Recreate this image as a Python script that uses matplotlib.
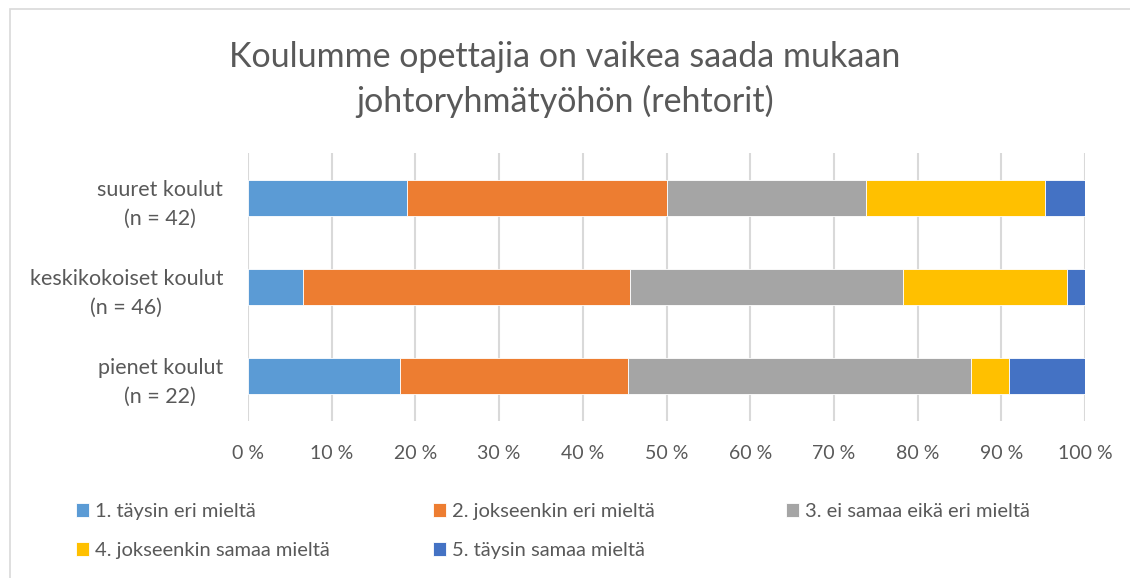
import matplotlib.pyplot as plt
import numpy as np
from matplotlib.patches import Rectangle

# data (answers per school size)
groups = ["suuret koulut\n(n = 42)", "keskikokoiset koulut\n(n = 46)", "pienet koulut\n(n = 22)"]
answers = ["1. täysin eri mieltä", "2. jokseenkin eri mieltä", "3. ei samaa eikä eri mieltä",
           "4. jokseenkin samaa mieltä", "5. täysin samaa mieltä"]
counts_suuret = [8, 13, 10, 9, 2]
counts_keski = [3, 18, 15, 9, 1]
counts_pienet = [4, 6, 9, 1, 2]
colors = ["#5B9BD5", "#ED7D31", "#A5A5A5", "#FFC000", "#4472C4"]
ticks = [0, 10, 20, 30, 40, 50, 60, 70, 80, 90, 100]

plt.rcParams['font.family'] = ['Lato', 'DejaVu Sans']
txt = "#595959"

counts = np.array([counts_suuret, counts_keski, counts_pienet], dtype=float)
pct = counts / counts.sum(axis=1, keepdims=True) * 100

W, H = 1130, 578
fig = plt.figure(figsize=(W/100, H/100), dpi=100)
ax = fig.add_axes([248/W, 1 - 421/H, (1085-248)/W, (421-153)/H])

y = np.arange(len(groups))
left = np.zeros(len(groups))
bars = []
for i in range(len(answers)):
    b = ax.barh(y, pct[:, i], left=left, height=0.4, color=colors[i],
                edgecolor="white", linewidth=0.6, label=answers[i], zorder=3)
    bars.append(b)
    left += pct[:, i]

ax.set_xlim(0, 100)
ax.set_ylim(2.5, -0.5)
ax.set_xticks(ticks)
ax.set_xticklabels([f"{t} %" for t in ticks], color=txt, fontsize=14)
ax.set_yticks(y)
ax.set_yticklabels(groups, color=txt, fontsize=15.5, ha="right", linespacing=1.55)
for lab in ax.get_yticklabels():
    lab.set_multialignment("center")
ax.tick_params(axis="y", length=0, pad=18)
ax.tick_params(axis="x", length=0, pad=17)
ax.xaxis.grid(True, color="#D9D9D9", linewidth=1.5, zorder=0)
for s in ax.spines.values():
    s.set_visible(False)

fig.text(0.5, 1 - 57/H, "Koulumme opettajia on vaikea saada mukaan", ha="center", va="center",
         fontsize=24.5, color=txt)
fig.text(0.5, 1 - 101/H, "johtoryhmätyöhön (rehtorit)", ha="center", va="center",
         fontsize=24.5, color=txt)

# legend: three columns placed like the reference
legend_cols = [[0, 3], [1, 4], [2]]
col_x = [76, 433, 786]
for xs, idx in zip(col_x, legend_cols):
    fig.legend([bars[k] for k in idx], [answers[k] for k in idx], loc="upper left",
               bbox_to_anchor=(xs/W, 1 - 503/H), frameon=False, fontsize=14.5,
               labelcolor=txt, handlelength=0.65, handleheight=0.65, handletextpad=0.3,
               labelspacing=1.1, borderaxespad=0, borderpad=0)

# chart frame
fig.patches.append(Rectangle((10/W, -0.05), 1.2, 1 - 9/H + 0.05, transform=fig.transFigure,
                             fill=False, edgecolor="#D9D9D9", linewidth=1.2))

fig.savefig("out.png", dpi=100)
